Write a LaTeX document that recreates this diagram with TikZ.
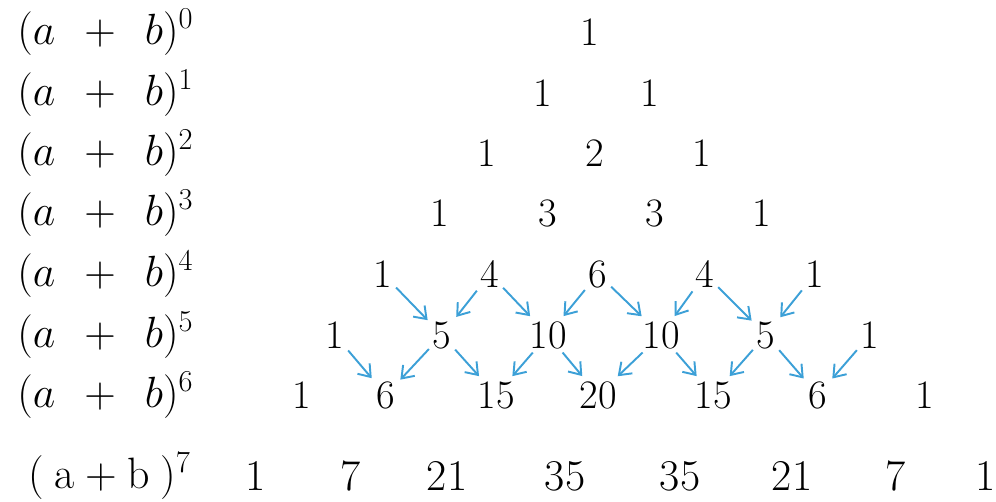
\documentclass[tikz,border=0pt]{standalone}
\usetikzlibrary{arrows.meta}
\definecolor{pascalblue}{RGB}{60,160,215}
\tikzset{
  num/.style={font=\fontsize{23}{26}\selectfont, inner sep=2pt},
  pow/.style={anchor=west, font=\fontsize{23}{26}\selectfont, inner sep=0pt},
  big/.style={font=\fontsize{25}{30}\selectfont, inner sep=3pt},
  flow/.style={-{Straight Barb[length=2.2mm,width=3.2mm]}, draw=pascalblue, line width=1.1pt, shorten >=1pt},
}
\newcommand{\apb}[1]{$(a\hspace{11pt}+\hspace{11pt}b)^{#1}$}

\begin{document}
\begin{tikzpicture}[x=0.02cm, y=-0.02cm]
  \useasboundingbox (0,0) rectangle (996,501);
  % powers on the left
  \node[pow] (p0) at (17,32)  {\apb{0}};
  \node[pow] (p1) at (17,93)  {\apb{1}};
  \node[pow] (p2) at (17,153) {\apb{2}};
  \node[pow] (p3) at (17,213) {\apb{3}};
  \node[pow] (p4) at (17,274) {\apb{4}};
  \node[pow] (p5) at (17,335) {\apb{5}};
  \node[pow] (p6) at (17,395) {\apb{6}};
  % rows 0 to 3
  \node[num] (r0c0) at (590,32) {1};
  \node[num] (r1c0) at (543,93) {1};
  \node[num] (r1c1) at (650,93) {1};
  \node[num] (r2c0) at (487,153) {1};
  \node[num] (r2c1) at (595,153) {2};
  \node[num] (r2c2) at (702,153) {1};
  \node[num] (r3c0) at (440,213) {1};
  \node[num] (r3c1) at (548,213) {3};
  \node[num] (r3c2) at (655,213) {3};
  \node[num] (r3c3) at (762,213) {1};
  % row 4
  \node[num] (r4c0) at (383,274) {1};
  \node[num] (r4c1) at (490,274) {4};
  \node[num] (r4c2) at (598,274) {6};
  \node[num] (r4c3) at (705,274) {4};
  \node[num] (r4c4) at (815,274) {1};
  % row 5
  \node[num] (r5c0) at (335,335) {1};
  \node[num] (r5c1) at (442,335) {5};
  \node[num] (r5c2) at (548,335) {10};
  \node[num] (r5c3) at (661,335) {10};
  \node[num] (r5c4) at (766,335) {5};
  \node[num] (r5c5) at (870,335) {1};
  % row 6
  \node[num] (r6c0) at (302,395) {1};
  \node[num] (r6c1) at (386,395) {6};
  \node[num] (r6c2) at (496,395) {15};
  \node[num] (r6c3) at (598,395) {20};
  \node[num] (r6c4) at (713,395) {15};
  \node[num] (r6c5) at (818,395) {6};
  \node[num] (r6c6) at (925,395) {1};
  % row 7
  \node[big, anchor=west, inner sep=0pt] (p7) at (28,476)
    {(\hspace{6pt}a\hspace{6pt}+\hspace{6pt}b\hspace{6pt})\textsuperscript{7}};
  \node[big] (r7c0) at (256,476) {1};
  \node[big] (r7c1) at (351,476) {7};
  \node[big] (r7c2) at (447,476) {21};
  \node[big] (r7c3) at (565,476) {35};
  \node[big] (r7c4) at (680,476) {35};
  \node[big] (r7c5) at (792,476) {21};
  \node[big] (r7c6) at (896,476) {7};
  \node[big] (r7c7) at (986,476) {1};
  % arrows row 4 to row 5
  \draw[flow] (r4c0) -- (r5c1);
  \draw[flow] (r4c1) -- (r5c1);
  \draw[flow] (r4c1) -- (r5c2);
  \draw[flow] (r4c2) -- (r5c2);
  \draw[flow] (r4c2) -- (r5c3);
  \draw[flow] (r4c3) -- (r5c3);
  \draw[flow] (r4c3) -- (r5c4);
  \draw[flow] (r4c4) -- (r5c4);
  % arrows row 5 to row 6
  \draw[flow] (r5c0) -- (r6c1);
  \draw[flow] (r5c1) -- (r6c1);
  \draw[flow] (r5c1) -- (r6c2);
  \draw[flow] (r5c2) -- (r6c2);
  \draw[flow] (r5c2) -- (r6c3);
  \draw[flow] (r5c3) -- (r6c3);
  \draw[flow] (r5c3) -- (r6c4);
  \draw[flow] (r5c4) -- (r6c4);
  \draw[flow] (r5c4) -- (r6c5);
  \draw[flow] (r5c5) -- (r6c5);
\end{tikzpicture}
\end{document}
